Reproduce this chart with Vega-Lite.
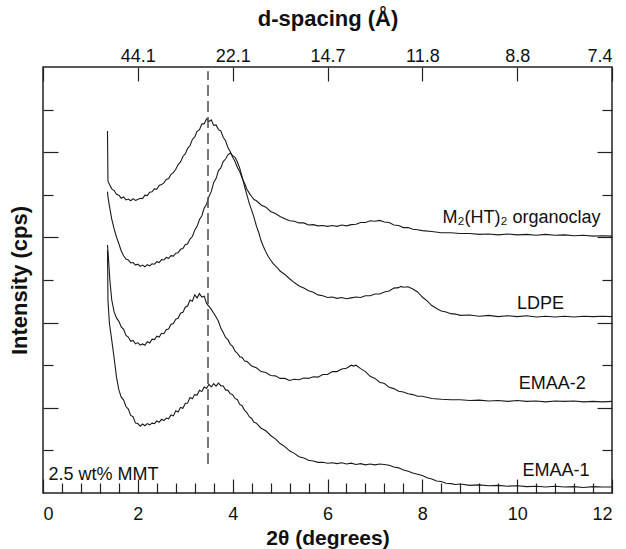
{
"$schema": "https://vega.github.io/schema/vega-lite/v6.json",
"width": 569, "height": 426,
"autosize": {"type": "none"},
"padding": {"left": 43, "top": 67, "right": 14, "bottom": 56},
"background": "white",
"config": {
 "view": {"stroke": "#222", "strokeWidth": 1.5},
 "font": "Liberation Sans",
 "axis": {"labelFont": "Liberation Sans", "titleFont": "Liberation Sans", "domain": false, "grid": false, "tickColor": "#222", "tickWidth": 1.2, "labelColor": "#111", "titleColor": "#111", "labelFontSize": 18, "titleFontSize": 22, "titleFontWeight": "bold"}
},
"datasets": {
"curves": [
{"s":"O","t":1.36,"y":8.5},{"s":"O","t":1.37,"y":7.32},{"s":"O","t":1.4,"y":7.25},{"s":"O","t":1.45,"y":7.14},{"s":"O","t":1.5,"y":7.1},{"s":"O","t":1.55,"y":7.01},{"s":"O","t":1.6,"y":6.99},{"s":"O","t":1.65,"y":6.92},{"s":"O","t":1.7,"y":6.95},{"s":"O","t":1.75,"y":6.88},{"s":"O","t":1.8,"y":6.9},{"s":"O","t":1.85,"y":6.86},{"s":"O","t":1.9,"y":6.91},{"s":"O","t":1.95,"y":6.87},{"s":"O","t":2.0,"y":6.89},{"s":"O","t":2.05,"y":6.92},{"s":"O","t":2.1,"y":6.91},{"s":"O","t":2.15,"y":6.99},{"s":"O","t":2.2,"y":6.98},{"s":"O","t":2.25,"y":7.06},{"s":"O","t":2.3,"y":7.07},{"s":"O","t":2.35,"y":7.14},{"s":"O","t":2.4,"y":7.13},{"s":"O","t":2.45,"y":7.22},{"s":"O","t":2.5,"y":7.24},{"s":"O","t":2.55,"y":7.28},{"s":"O","t":2.6,"y":7.36},{"s":"O","t":2.65,"y":7.38},{"s":"O","t":2.7,"y":7.48},{"s":"O","t":2.75,"y":7.52},{"s":"O","t":2.8,"y":7.6},{"s":"O","t":2.85,"y":7.71},{"s":"O","t":2.9,"y":7.77},{"s":"O","t":2.95,"y":7.9},{"s":"O","t":3.0,"y":7.96},{"s":"O","t":3.05,"y":8.09},{"s":"O","t":3.1,"y":8.15},{"s":"O","t":3.15,"y":8.3},{"s":"O","t":3.2,"y":8.36},{"s":"O","t":3.25,"y":8.49},{"s":"O","t":3.3,"y":8.53},{"s":"O","t":3.35,"y":8.66},{"s":"O","t":3.4,"y":8.67},{"s":"O","t":3.45,"y":8.78},{"s":"O","t":3.5,"y":8.72},{"s":"O","t":3.55,"y":8.76},{"s":"O","t":3.6,"y":8.63},{"s":"O","t":3.65,"y":8.64},{"s":"O","t":3.7,"y":8.53},{"s":"O","t":3.75,"y":8.5},{"s":"O","t":3.8,"y":8.35},{"s":"O","t":3.85,"y":8.27},{"s":"O","t":3.9,"y":8.11},{"s":"O","t":3.95,"y":8.01},{"s":"O","t":4.0,"y":7.88},{"s":"O","t":4.05,"y":7.78},{"s":"O","t":4.1,"y":7.64},{"s":"O","t":4.15,"y":7.54},{"s":"O","t":4.2,"y":7.39},{"s":"O","t":4.25,"y":7.27},{"s":"O","t":4.3,"y":7.13},{"s":"O","t":4.35,"y":7.04},{"s":"O","t":4.4,"y":6.96},{"s":"O","t":4.45,"y":6.89},{"s":"O","t":4.5,"y":6.86},{"s":"O","t":4.6,"y":6.76},{"s":"O","t":4.7,"y":6.71},{"s":"O","t":4.8,"y":6.61},{"s":"O","t":4.9,"y":6.56},{"s":"O","t":5.0,"y":6.49},{"s":"O","t":5.1,"y":6.44},{"s":"O","t":5.2,"y":6.39},{"s":"O","t":5.3,"y":6.38},{"s":"O","t":5.4,"y":6.34},{"s":"O","t":5.5,"y":6.34},{"s":"O","t":5.6,"y":6.29},{"s":"O","t":5.7,"y":6.3},{"s":"O","t":5.8,"y":6.27},{"s":"O","t":5.9,"y":6.28},{"s":"O","t":6.0,"y":6.26},{"s":"O","t":6.1,"y":6.28},{"s":"O","t":6.2,"y":6.26},{"s":"O","t":6.3,"y":6.29},{"s":"O","t":6.4,"y":6.27},{"s":"O","t":6.5,"y":6.3},{"s":"O","t":6.6,"y":6.31},{"s":"O","t":6.7,"y":6.35},{"s":"O","t":6.8,"y":6.35},{"s":"O","t":6.9,"y":6.39},{"s":"O","t":7.0,"y":6.38},{"s":"O","t":7.1,"y":6.4},{"s":"O","t":7.2,"y":6.36},{"s":"O","t":7.3,"y":6.35},{"s":"O","t":7.4,"y":6.29},{"s":"O","t":7.5,"y":6.28},{"s":"O","t":7.6,"y":6.23},{"s":"O","t":7.7,"y":6.23},{"s":"O","t":7.8,"y":6.19},{"s":"O","t":7.9,"y":6.18},{"s":"O","t":8.0,"y":6.16},{"s":"O","t":8.2,"y":6.14},{"s":"O","t":8.4,"y":6.11},{"s":"O","t":8.6,"y":6.11},{"s":"O","t":8.8,"y":6.09},{"s":"O","t":9.0,"y":6.09},{"s":"O","t":9.2,"y":6.07},{"s":"O","t":9.4,"y":6.08},{"s":"O","t":9.6,"y":6.06},{"s":"O","t":9.8,"y":6.08},{"s":"O","t":10.0,"y":6.06},{"s":"O","t":10.2,"y":6.07},{"s":"O","t":10.4,"y":6.05},{"s":"O","t":10.6,"y":6.07},{"s":"O","t":10.8,"y":6.05},{"s":"O","t":11.0,"y":6.06},{"s":"O","t":11.2,"y":6.04},{"s":"O","t":11.4,"y":6.05},{"s":"O","t":11.6,"y":6.03},{"s":"O","t":11.8,"y":6.04},{"s":"O","t":12.0,"y":6.03},
{"s":"L","t":1.36,"y":7.07},{"s":"L","t":1.37,"y":6.95},{"s":"L","t":1.4,"y":6.74},{"s":"L","t":1.45,"y":6.43},{"s":"L","t":1.5,"y":6.2},{"s":"L","t":1.55,"y":6.01},{"s":"L","t":1.6,"y":5.85},{"s":"L","t":1.65,"y":5.68},{"s":"L","t":1.7,"y":5.57},{"s":"L","t":1.75,"y":5.49},{"s":"L","t":1.8,"y":5.47},{"s":"L","t":1.85,"y":5.4},{"s":"L","t":1.9,"y":5.41},{"s":"L","t":1.95,"y":5.35},{"s":"L","t":2.0,"y":5.37},{"s":"L","t":2.05,"y":5.32},{"s":"L","t":2.1,"y":5.35},{"s":"L","t":2.15,"y":5.31},{"s":"L","t":2.2,"y":5.36},{"s":"L","t":2.25,"y":5.33},{"s":"L","t":2.3,"y":5.38},{"s":"L","t":2.35,"y":5.37},{"s":"L","t":2.4,"y":5.43},{"s":"L","t":2.45,"y":5.41},{"s":"L","t":2.5,"y":5.48},{"s":"L","t":2.55,"y":5.47},{"s":"L","t":2.6,"y":5.53},{"s":"L","t":2.65,"y":5.51},{"s":"L","t":2.7,"y":5.57},{"s":"L","t":2.75,"y":5.56},{"s":"L","t":2.8,"y":5.63},{"s":"L","t":2.85,"y":5.64},{"s":"L","t":2.9,"y":5.72},{"s":"L","t":2.95,"y":5.74},{"s":"L","t":3.0,"y":5.83},{"s":"L","t":3.05,"y":5.85},{"s":"L","t":3.1,"y":5.96},{"s":"L","t":3.15,"y":6.02},{"s":"L","t":3.2,"y":6.17},{"s":"L","t":3.25,"y":6.26},{"s":"L","t":3.3,"y":6.42},{"s":"L","t":3.35,"y":6.51},{"s":"L","t":3.4,"y":6.69},{"s":"L","t":3.45,"y":6.78},{"s":"L","t":3.5,"y":6.96},{"s":"L","t":3.55,"y":7.08},{"s":"L","t":3.6,"y":7.29},{"s":"L","t":3.65,"y":7.38},{"s":"L","t":3.7,"y":7.57},{"s":"L","t":3.75,"y":7.63},{"s":"L","t":3.8,"y":7.78},{"s":"L","t":3.85,"y":7.84},{"s":"L","t":3.9,"y":7.94},{"s":"L","t":3.95,"y":7.98},{"s":"L","t":4.0,"y":7.92},{"s":"L","t":4.05,"y":7.88},{"s":"L","t":4.1,"y":7.77},{"s":"L","t":4.15,"y":7.62},{"s":"L","t":4.2,"y":7.42},{"s":"L","t":4.25,"y":7.2},{"s":"L","t":4.3,"y":7.0},{"s":"L","t":4.35,"y":6.8},{"s":"L","t":4.4,"y":6.64},{"s":"L","t":4.45,"y":6.47},{"s":"L","t":4.5,"y":6.27},{"s":"L","t":4.55,"y":6.11},{"s":"L","t":4.6,"y":5.92},{"s":"L","t":4.65,"y":5.78},{"s":"L","t":4.7,"y":5.66},{"s":"L","t":4.75,"y":5.55},{"s":"L","t":4.8,"y":5.47},{"s":"L","t":4.85,"y":5.39},{"s":"L","t":4.9,"y":5.33},{"s":"L","t":4.95,"y":5.28},{"s":"L","t":5.0,"y":5.21},{"s":"L","t":5.1,"y":5.13},{"s":"L","t":5.2,"y":5.03},{"s":"L","t":5.3,"y":4.94},{"s":"L","t":5.4,"y":4.86},{"s":"L","t":5.5,"y":4.81},{"s":"L","t":5.6,"y":4.75},{"s":"L","t":5.7,"y":4.71},{"s":"L","t":5.8,"y":4.65},{"s":"L","t":5.9,"y":4.63},{"s":"L","t":6.0,"y":4.59},{"s":"L","t":6.1,"y":4.6},{"s":"L","t":6.2,"y":4.57},{"s":"L","t":6.3,"y":4.59},{"s":"L","t":6.4,"y":4.56},{"s":"L","t":6.5,"y":4.58},{"s":"L","t":6.6,"y":4.6},{"s":"L","t":6.7,"y":4.59},{"s":"L","t":6.8,"y":4.63},{"s":"L","t":6.9,"y":4.63},{"s":"L","t":7.0,"y":4.67},{"s":"L","t":7.1,"y":4.67},{"s":"L","t":7.2,"y":4.72},{"s":"L","t":7.3,"y":4.74},{"s":"L","t":7.4,"y":4.81},{"s":"L","t":7.5,"y":4.82},{"s":"L","t":7.55,"y":4.85},{"s":"L","t":7.6,"y":4.83},{"s":"L","t":7.7,"y":4.84},{"s":"L","t":7.8,"y":4.79},{"s":"L","t":7.9,"y":4.72},{"s":"L","t":8.0,"y":4.6},{"s":"L","t":8.1,"y":4.51},{"s":"L","t":8.2,"y":4.4},{"s":"L","t":8.3,"y":4.33},{"s":"L","t":8.4,"y":4.27},{"s":"L","t":8.5,"y":4.25},{"s":"L","t":8.6,"y":4.21},{"s":"L","t":8.7,"y":4.2},{"s":"L","t":8.8,"y":4.17},{"s":"L","t":9.0,"y":4.18},{"s":"L","t":9.2,"y":4.15},{"s":"L","t":9.4,"y":4.17},{"s":"L","t":9.6,"y":4.14},{"s":"L","t":9.8,"y":4.16},{"s":"L","t":10.0,"y":4.14},{"s":"L","t":10.2,"y":4.16},{"s":"L","t":10.4,"y":4.13},{"s":"L","t":10.6,"y":4.15},{"s":"L","t":10.8,"y":4.13},{"s":"L","t":11.0,"y":4.15},{"s":"L","t":11.2,"y":4.13},{"s":"L","t":11.4,"y":4.15},{"s":"L","t":11.6,"y":4.14},{"s":"L","t":11.8,"y":4.15},{"s":"L","t":12.0,"y":4.14},
{"s":"E2","t":1.36,"y":5.82},{"s":"E2","t":1.38,"y":5.52},{"s":"E2","t":1.41,"y":5.0},{"s":"E2","t":1.45,"y":4.53},{"s":"E2","t":1.5,"y":4.25},{"s":"E2","t":1.55,"y":4.11},{"s":"E2","t":1.6,"y":4.03},{"s":"E2","t":1.65,"y":3.9},{"s":"E2","t":1.7,"y":3.84},{"s":"E2","t":1.75,"y":3.7},{"s":"E2","t":1.8,"y":3.66},{"s":"E2","t":1.85,"y":3.56},{"s":"E2","t":1.9,"y":3.58},{"s":"E2","t":1.95,"y":3.5},{"s":"E2","t":2.0,"y":3.53},{"s":"E2","t":2.05,"y":3.47},{"s":"E2","t":2.1,"y":3.5},{"s":"E2","t":2.15,"y":3.47},{"s":"E2","t":2.2,"y":3.55},{"s":"E2","t":2.25,"y":3.52},{"s":"E2","t":2.3,"y":3.61},{"s":"E2","t":2.35,"y":3.6},{"s":"E2","t":2.4,"y":3.68},{"s":"E2","t":2.45,"y":3.66},{"s":"E2","t":2.5,"y":3.75},{"s":"E2","t":2.55,"y":3.74},{"s":"E2","t":2.6,"y":3.84},{"s":"E2","t":2.65,"y":3.85},{"s":"E2","t":2.7,"y":3.96},{"s":"E2","t":2.75,"y":3.98},{"s":"E2","t":2.8,"y":4.08},{"s":"E2","t":2.85,"y":4.1},{"s":"E2","t":2.9,"y":4.22},{"s":"E2","t":2.95,"y":4.24},{"s":"E2","t":3.0,"y":4.36},{"s":"E2","t":3.05,"y":4.39},{"s":"E2","t":3.1,"y":4.53},{"s":"E2","t":3.15,"y":4.5},{"s":"E2","t":3.2,"y":4.65},{"s":"E2","t":3.25,"y":4.58},{"s":"E2","t":3.3,"y":4.68},{"s":"E2","t":3.35,"y":4.6},{"s":"E2","t":3.4,"y":4.62},{"s":"E2","t":3.45,"y":4.45},{"s":"E2","t":3.5,"y":4.38},{"s":"E2","t":3.55,"y":4.31},{"s":"E2","t":3.6,"y":4.22},{"s":"E2","t":3.65,"y":4.13},{"s":"E2","t":3.7,"y":4.03},{"s":"E2","t":3.75,"y":3.87},{"s":"E2","t":3.8,"y":3.77},{"s":"E2","t":3.85,"y":3.65},{"s":"E2","t":3.9,"y":3.6},{"s":"E2","t":3.95,"y":3.49},{"s":"E2","t":4.0,"y":3.44},{"s":"E2","t":4.05,"y":3.33},{"s":"E2","t":4.1,"y":3.28},{"s":"E2","t":4.15,"y":3.2},{"s":"E2","t":4.2,"y":3.18},{"s":"E2","t":4.25,"y":3.1},{"s":"E2","t":4.3,"y":3.09},{"s":"E2","t":4.4,"y":2.98},{"s":"E2","t":4.5,"y":2.94},{"s":"E2","t":4.6,"y":2.85},{"s":"E2","t":4.7,"y":2.83},{"s":"E2","t":4.8,"y":2.76},{"s":"E2","t":4.9,"y":2.75},{"s":"E2","t":5.0,"y":2.69},{"s":"E2","t":5.1,"y":2.69},{"s":"E2","t":5.2,"y":2.64},{"s":"E2","t":5.3,"y":2.67},{"s":"E2","t":5.4,"y":2.66},{"s":"E2","t":5.5,"y":2.7},{"s":"E2","t":5.6,"y":2.69},{"s":"E2","t":5.7,"y":2.73},{"s":"E2","t":5.8,"y":2.72},{"s":"E2","t":5.9,"y":2.78},{"s":"E2","t":6.0,"y":2.78},{"s":"E2","t":6.1,"y":2.85},{"s":"E2","t":6.2,"y":2.85},{"s":"E2","t":6.3,"y":2.91},{"s":"E2","t":6.4,"y":2.93},{"s":"E2","t":6.5,"y":3.0},{"s":"E2","t":6.55,"y":2.98},{"s":"E2","t":6.6,"y":3.0},{"s":"E2","t":6.7,"y":2.92},{"s":"E2","t":6.8,"y":2.85},{"s":"E2","t":6.9,"y":2.74},{"s":"E2","t":7.0,"y":2.69},{"s":"E2","t":7.1,"y":2.6},{"s":"E2","t":7.2,"y":2.57},{"s":"E2","t":7.3,"y":2.48},{"s":"E2","t":7.4,"y":2.45},{"s":"E2","t":7.5,"y":2.39},{"s":"E2","t":7.6,"y":2.37},{"s":"E2","t":7.7,"y":2.33},{"s":"E2","t":7.8,"y":2.31},{"s":"E2","t":7.9,"y":2.27},{"s":"E2","t":8.0,"y":2.27},{"s":"E2","t":8.2,"y":2.22},{"s":"E2","t":8.4,"y":2.2},{"s":"E2","t":8.6,"y":2.19},{"s":"E2","t":8.8,"y":2.19},{"s":"E2","t":9.0,"y":2.17},{"s":"E2","t":9.2,"y":2.18},{"s":"E2","t":9.4,"y":2.16},{"s":"E2","t":9.6,"y":2.17},{"s":"E2","t":9.8,"y":2.15},{"s":"E2","t":10.0,"y":2.17},{"s":"E2","t":10.2,"y":2.15},{"s":"E2","t":10.4,"y":2.16},{"s":"E2","t":10.6,"y":2.14},{"s":"E2","t":10.8,"y":2.16},{"s":"E2","t":11.0,"y":2.15},{"s":"E2","t":11.2,"y":2.16},{"s":"E2","t":11.4,"y":2.14},{"s":"E2","t":11.6,"y":2.15},{"s":"E2","t":11.8,"y":2.14},{"s":"E2","t":12.0,"y":2.15},
{"s":"E1","t":1.36,"y":5.7},{"s":"E1","t":1.37,"y":4.53},{"s":"E1","t":1.4,"y":3.99},{"s":"E1","t":1.45,"y":3.59},{"s":"E1","t":1.5,"y":3.17},{"s":"E1","t":1.55,"y":2.72},{"s":"E1","t":1.6,"y":2.42},{"s":"E1","t":1.65,"y":2.25},{"s":"E1","t":1.7,"y":2.18},{"s":"E1","t":1.75,"y":2.03},{"s":"E1","t":1.8,"y":1.97},{"s":"E1","t":1.85,"y":1.82},{"s":"E1","t":1.9,"y":1.79},{"s":"E1","t":1.95,"y":1.64},{"s":"E1","t":2.0,"y":1.63},{"s":"E1","t":2.05,"y":1.57},{"s":"E1","t":2.1,"y":1.62},{"s":"E1","t":2.15,"y":1.58},{"s":"E1","t":2.2,"y":1.63},{"s":"E1","t":2.25,"y":1.6},{"s":"E1","t":2.3,"y":1.64},{"s":"E1","t":2.35,"y":1.63},{"s":"E1","t":2.4,"y":1.69},{"s":"E1","t":2.45,"y":1.66},{"s":"E1","t":2.5,"y":1.73},{"s":"E1","t":2.55,"y":1.7},{"s":"E1","t":2.6,"y":1.76},{"s":"E1","t":2.65,"y":1.74},{"s":"E1","t":2.7,"y":1.83},{"s":"E1","t":2.75,"y":1.81},{"s":"E1","t":2.8,"y":1.93},{"s":"E1","t":2.85,"y":1.9},{"s":"E1","t":2.9,"y":2.01},{"s":"E1","t":2.95,"y":1.99},{"s":"E1","t":3.0,"y":2.1},{"s":"E1","t":3.05,"y":2.11},{"s":"E1","t":3.1,"y":2.24},{"s":"E1","t":3.15,"y":2.21},{"s":"E1","t":3.2,"y":2.31},{"s":"E1","t":3.25,"y":2.3},{"s":"E1","t":3.3,"y":2.41},{"s":"E1","t":3.35,"y":2.38},{"s":"E1","t":3.4,"y":2.49},{"s":"E1","t":3.45,"y":2.46},{"s":"E1","t":3.5,"y":2.55},{"s":"E1","t":3.55,"y":2.49},{"s":"E1","t":3.6,"y":2.57},{"s":"E1","t":3.65,"y":2.51},{"s":"E1","t":3.7,"y":2.58},{"s":"E1","t":3.75,"y":2.52},{"s":"E1","t":3.8,"y":2.51},{"s":"E1","t":3.85,"y":2.42},{"s":"E1","t":3.9,"y":2.41},{"s":"E1","t":3.95,"y":2.33},{"s":"E1","t":4.0,"y":2.31},{"s":"E1","t":4.05,"y":2.22},{"s":"E1","t":4.1,"y":2.19},{"s":"E1","t":4.15,"y":2.08},{"s":"E1","t":4.2,"y":2.05},{"s":"E1","t":4.25,"y":1.94},{"s":"E1","t":4.3,"y":1.89},{"s":"E1","t":4.35,"y":1.79},{"s":"E1","t":4.4,"y":1.75},{"s":"E1","t":4.45,"y":1.66},{"s":"E1","t":4.5,"y":1.64},{"s":"E1","t":4.6,"y":1.52},{"s":"E1","t":4.7,"y":1.46},{"s":"E1","t":4.8,"y":1.35},{"s":"E1","t":4.9,"y":1.27},{"s":"E1","t":5.0,"y":1.16},{"s":"E1","t":5.1,"y":1.09},{"s":"E1","t":5.2,"y":0.99},{"s":"E1","t":5.3,"y":0.93},{"s":"E1","t":5.4,"y":0.85},{"s":"E1","t":5.5,"y":0.82},{"s":"E1","t":5.6,"y":0.77},{"s":"E1","t":5.7,"y":0.75},{"s":"E1","t":5.8,"y":0.72},{"s":"E1","t":5.9,"y":0.72},{"s":"E1","t":6.0,"y":0.7},{"s":"E1","t":6.1,"y":0.71},{"s":"E1","t":6.2,"y":0.69},{"s":"E1","t":6.3,"y":0.71},{"s":"E1","t":6.4,"y":0.68},{"s":"E1","t":6.5,"y":0.7},{"s":"E1","t":6.6,"y":0.67},{"s":"E1","t":6.7,"y":0.69},{"s":"E1","t":6.8,"y":0.66},{"s":"E1","t":6.9,"y":0.68},{"s":"E1","t":7.0,"y":0.66},{"s":"E1","t":7.1,"y":0.68},{"s":"E1","t":7.2,"y":0.67},{"s":"E1","t":7.3,"y":0.65},{"s":"E1","t":7.4,"y":0.61},{"s":"E1","t":7.5,"y":0.59},{"s":"E1","t":7.6,"y":0.54},{"s":"E1","t":7.7,"y":0.51},{"s":"E1","t":7.8,"y":0.47},{"s":"E1","t":7.9,"y":0.44},{"s":"E1","t":8.0,"y":0.41},{"s":"E1","t":8.1,"y":0.36},{"s":"E1","t":8.2,"y":0.33},{"s":"E1","t":8.3,"y":0.28},{"s":"E1","t":8.4,"y":0.27},{"s":"E1","t":8.5,"y":0.23},{"s":"E1","t":8.6,"y":0.22},{"s":"E1","t":8.7,"y":0.2},{"s":"E1","t":8.8,"y":0.21},{"s":"E1","t":9.0,"y":0.18},{"s":"E1","t":9.2,"y":0.19},{"s":"E1","t":9.4,"y":0.17},{"s":"E1","t":9.6,"y":0.18},{"s":"E1","t":9.8,"y":0.16},{"s":"E1","t":10.0,"y":0.17},{"s":"E1","t":10.2,"y":0.15},{"s":"E1","t":10.4,"y":0.16},{"s":"E1","t":10.6,"y":0.14},{"s":"E1","t":10.8,"y":0.16},{"s":"E1","t":11.0,"y":0.14},{"s":"E1","t":11.2,"y":0.15},{"s":"E1","t":11.4,"y":0.13},{"s":"E1","t":11.6,"y":0.15},{"s":"E1","t":11.8,"y":0.14},{"s":"E1","t":12.0,"y":0.14}
],
"labels": [
{"t":10.09,"y":6.345,"label":"M₂(HT)₂ organoclay"},
{"t":10.49,"y":4.32,"label":"LDPE"},
{"t":10.74,"y":2.44,"label":"EMAA-2"},
{"t":10.82,"y":0.39,"label":"EMAA-1"},
{"t":1.276,"y":0.31,"label":"2.5 wt% MMT"}
],
"refline": [{"t":3.48,"y0":0.68,"y1":9.9}]
},
"layer": [
{
 "data": {"name": "curves"},
 "mark": {"type": "line", "color": "#1a1a1a", "strokeWidth": 1.1},
 "encoding": {
  "x": {"field": "t", "type": "quantitative", "scale": {"domain": [0, 12], "nice": false},
   "axis": {"orient": "bottom", "values": [0,2,4,6,8,10,12], "tickSize": -14, "labelPadding": 26, "title": "2θ (degrees)", "titleFontSize": 21, "titlePadding": 4}},
  "y": {"field": "y", "type": "quantitative", "scale": {"domain": [0, 10], "nice": false, "zero": false},
   "axis": {"orient": "left", "values": [1,2,3,4,5,6,7,8,9], "tickSize": {"condition": {"test": "datum.value % 2 === 0", "value": -15}, "value": -10}, "labels": false, "title": "Intensity (cps)", "titlePadding": 11}},
  "detail": {"field": "s", "type": "nominal"}
 }
},
{
 "data": {"name": "refline"},
 "mark": {"type": "rule", "color": "#555", "strokeWidth": 1.6, "strokeDash": [11, 5]},
 "encoding": {
  "x": {"field": "t", "type": "quantitative",
   "axis": {"orient": "top", "values": [0,2,4,6,8,10,12], "tickSize": -14, "labelPadding": 16, "labelExpr": "datum.value == 2 ? '44.1' : datum.value == 4 ? '22.1' : datum.value == 6 ? '14.7' : datum.value == 8 ? '11.8' : datum.value == 10 ? '8.8' : datum.value == 12 ? '7.4' : ''", "title": "d-spacing (Å)", "titlePadding": 17}},
  "y": {"field": "y0", "type": "quantitative",
   "axis": {"orient": "right", "values": [1,2,3,4,5,6,7,8,9], "tickSize": {"condition": {"test": "datum.value % 2 === 0", "value": -15}, "value": -10}, "labels": false, "title": null}},
  "y2": {"field": "y1"}
 }
},
{
 "data": {"name": "labels"},
 "mark": {"type": "text", "align": "center", "baseline": "alphabetic", "fontSize": 18, "font": "Liberation Sans", "color": "#111"},
 "encoding": {
  "x": {"field": "t", "type": "quantitative",
   "axis": {"orient": "bottom", "values": [0.4,0.8,1.2,1.6,2.4,2.8,3.2,3.6,4.4,4.8,5.2,5.6,6.4,6.8,7.2,7.6,8.4,8.8,9.2,9.6,10.4,10.8,11.2,11.6], "tickSize": -10, "labels": false, "title": null}},
  "y": {"field": "y", "type": "quantitative", "axis": null},
  "text": {"field": "label", "type": "nominal"}
 }
}
],
"resolve": {"axis": {"x": "independent", "y": "independent"}}
}
